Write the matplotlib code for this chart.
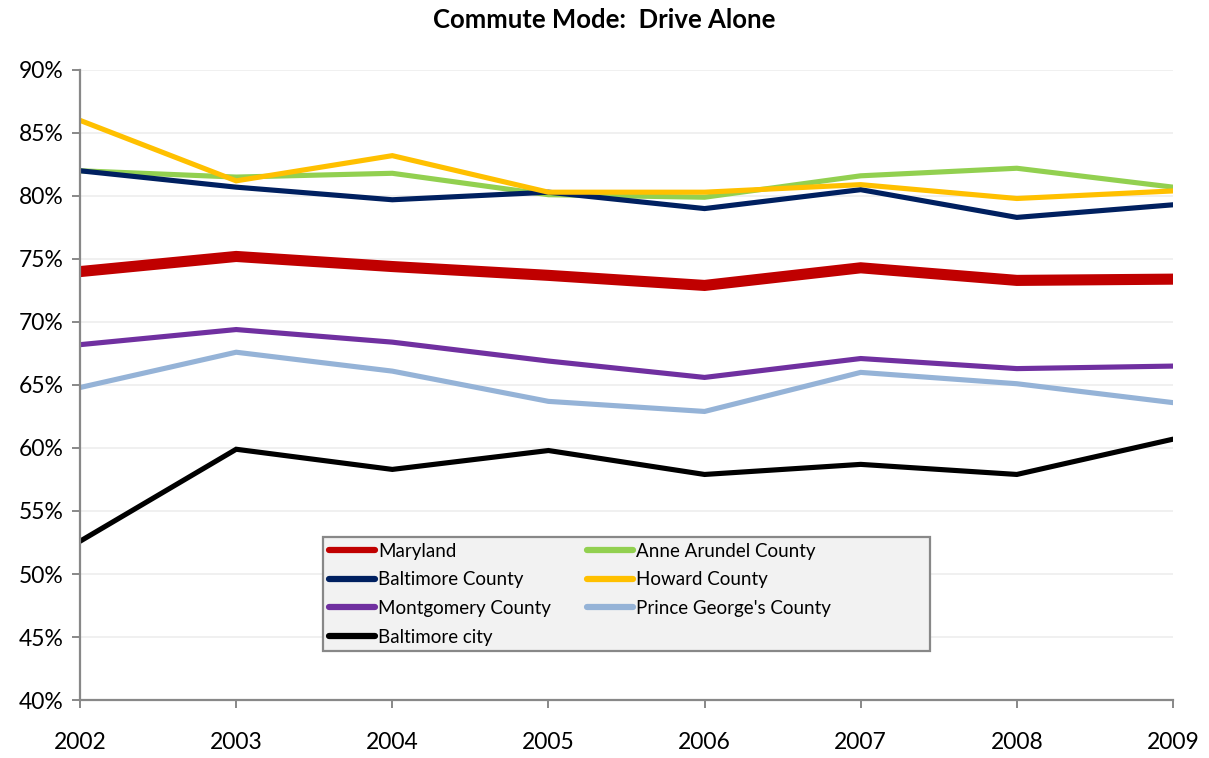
import matplotlib.pyplot as plt
from matplotlib.patches import Rectangle
from matplotlib.ticker import FuncFormatter

plt.rcParams['font.family'] = ['Lato', 'DejaVu Sans']

years = [2002, 2003, 2004, 2005, 2006, 2007, 2008, 2009]

maryland = [74.0, 75.2, 74.4, 73.7, 72.9, 74.3, 73.3, 73.4]
anne_arundel = [82.0, 81.5, 81.8, 80.1, 79.9, 81.6, 82.2, 80.7]
baltimore_county = [82.0, 80.7, 79.7, 80.3, 79.0, 80.5, 78.3, 79.3]
howard = [86.0, 81.2, 83.2, 80.3, 80.3, 80.9, 79.8, 80.4]
montgomery = [68.2, 69.4, 68.4, 66.9, 65.6, 67.1, 66.3, 66.5]
prince_georges = [64.8, 67.6, 66.1, 63.7, 62.9, 66.0, 65.1, 63.6]
baltimore_city = [52.6, 59.9, 58.3, 59.8, 57.9, 58.7, 57.9, 60.7]

series = [
    ("Maryland", maryland, "#c00000", 8.0),
    ("Anne Arundel County", anne_arundel, "#92d050", 3.7),
    ("Baltimore County", baltimore_county, "#002060", 3.7),
    ("Howard County", howard, "#ffc000", 3.7),
    ("Montgomery County", montgomery, "#7030a0", 3.7),
    ("Prince George's County", prince_georges, "#95b3d7", 3.7),
    ("Baltimore city", baltimore_city, "#000000", 3.7),
]

fig = plt.figure(figsize=(12.09, 7.58), dpi=100)
ax = fig.add_axes([0.0662, 0.0765, 0.904, 0.8312])

lines = {}
for name, vals, color, lw in series:
    lines[name], = ax.plot(years, vals, color=color, lw=lw, label=name,
                           solid_capstyle='round', solid_joinstyle='miter')

ax.set_xlim(2002, 2009)
ax.set_ylim(40, 90)
ax.set_yticks(range(40, 91, 5))
ax.yaxis.set_major_formatter(FuncFormatter(lambda v, p: f"{v:.0f}%"))
ax.set_xticks(years)
ax.grid(axis='y', color='#eeeeee', lw=1.2)
ax.set_axisbelow(True)
for s in ['top', 'right']:
    ax.spines[s].set_visible(False)
for s in ['left', 'bottom']:
    ax.spines[s].set_color('#888888')
    ax.spines[s].set_linewidth(1.6)
ax.tick_params(axis='both', colors='#888888', labelcolor='black',
               labelsize=16.5, length=6, width=1.4)
ax.tick_params(axis='y', pad=6)
ax.tick_params(axis='x', pad=17)

fig.text(0.5, 0.973, "Commute Mode:  Drive Alone", fontsize=18.5,
         fontweight='bold', ha='center', va='center')

# fixed-size legend box, wider than its entries
ax.add_patch(Rectangle((0.2223, 0.0778), 0.5554, 0.1809, transform=ax.transAxes,
                       facecolor='#f2f2f2', edgecolor='#888888', lw=1.6,
                       zorder=4.9))

# legend fills row by row: reorder for matplotlib's column-major layout
order = ["Maryland", "Baltimore County", "Montgomery County", "Baltimore city",
         "Anne Arundel County", "Howard County", "Prince George's County"]
leg = ax.legend([lines[n] for n in order], order,
                loc='upper left', bbox_to_anchor=(0.2223, 0.2587), ncol=2,
                fontsize=13.5, frameon=False, handlelength=2.45,
                handletextpad=0.2, columnspacing=1.9, labelspacing=0.62,
                borderpad=0.3, borderaxespad=0)
for h in leg.get_lines():
    h.set_linewidth(4.5)
    h.set_solid_capstyle('round')

fig.savefig("out.png", dpi=100)
